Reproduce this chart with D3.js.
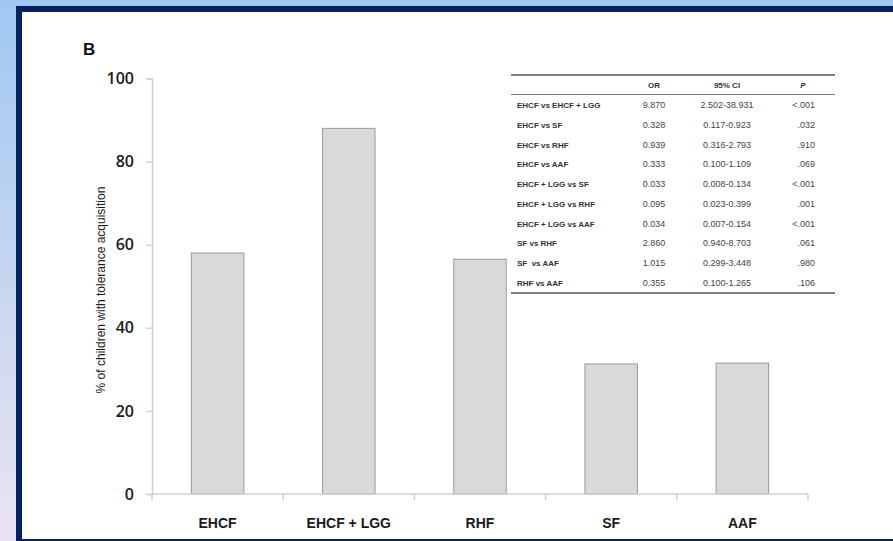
<!DOCTYPE html>
<html>
<head>
<meta charset="utf-8">
<script src="https://cdn.jsdelivr.net/npm/d3@7"></script>
<style>
  html, body { margin: 0; padding: 0; background: #fff; }
  svg { display: block; }
</style>
</head>
<body>
<svg id="chart" width="893" height="541"></svg>
<script>
// Tolerance acquisition by formula group
const categories = ["EHCF", "EHCF + LGG", "RHF", "SF", "AAF"];
const tolerancePct = [58, 88, 56.5, 31.3, 31.5];
const yTicks = [0, 20, 40, 60, 80, 100];

// Pairwise comparison table
const comparisons = [
  "EHCF vs EHCF + LGG", "EHCF vs SF", "EHCF vs RHF", "EHCF vs AAF",
  "EHCF + LGG vs SF", "EHCF + LGG vs RHF", "EHCF + LGG vs AAF",
  "SF vs RHF", "SF  vs AAF", "RHF vs AAF"
];
const oddsRatios = ["9.870", "0.328", "0.939", "0.333", "0.033", "0.095", "0.034", "2.860", "1.015", "0.355"];
const confIntervals = ["2.502-38.931", "0.117-0.923", "0.316-2.793", "0.100-1.109", "0.008-0.134",
  "0.023-0.399", "0.007-0.154", "0.940-8.703", "0.299-3.448", "0.100-1.265"];
const pValues = ["<.001", ".032", ".910", ".069", "<.001", ".001", "<.001", ".061", ".980", ".106"];
const tableHeaders = ["OR", "95% CI", "P"];

const svg = d3.select("#chart");
const W = 893, H = 541;

// Slide backdrop: soft gradient strip, navy frame, white panel
const defs = svg.append("defs");
const grad = defs.append("linearGradient").attr("id", "bg").attr("x1", 0).attr("y1", 0).attr("x2", 0).attr("y2", 1);
grad.append("stop").attr("offset", 0).attr("stop-color", "#9fc8f2");
grad.append("stop").attr("offset", 0.55).attr("stop-color", "#c9d7f0");
grad.append("stop").attr("offset", 1).attr("stop-color", "#ebe3f3");
svg.append("rect").attr("width", W).attr("height", H).attr("fill", "url(#bg)");
svg.append("rect").attr("x", 16).attr("y", 6).attr("width", W - 16).attr("height", H - 6).attr("fill", "#06215e");
svg.append("rect").attr("x", 22).attr("y", 12).attr("width", W - 22).attr("height", H - 14).attr("fill", "#ffffff");

// Scales
const x = d3.scaleBand().domain(categories).range([152, 808]).padding(0);
const y = d3.scaleLinear().domain([0, 100]).range([494, 78.5]);
const barW = x.bandwidth() * 0.4;

// Panel letter
svg.append("text").attr("x", 83).attr("y", 55)
  .attr("font-family", "Liberation Sans, Arial, sans-serif").attr("font-weight", "bold")
  .attr("font-size", 17).attr("fill", "#111").text("B");

// Bars
svg.append("g").selectAll("rect").data(categories).join("rect")
  .attr("x", d => x(d) + (x.bandwidth() - barW) / 2)
  .attr("y", (d, i) => y(tolerancePct[i]))
  .attr("width", barW)
  .attr("height", (d, i) => y(0) - y(tolerancePct[i]))
  .attr("fill", "#d9d9d9").attr("stroke", "#9a9a9a").attr("stroke-width", 1);

// Y axis
const yAxis = svg.append("g").attr("transform", "translate(152,0)")
  .call(d3.axisLeft(y).tickValues(yTicks).tickSize(6).tickPadding(12));
yAxis.select(".domain").attr("stroke", "#d0d0d0").attr("stroke-width", 1.5);
yAxis.selectAll(".tick line").attr("stroke", "#d0d0d0").attr("stroke-width", 1.5);
yAxis.selectAll(".tick text")
  .attr("font-family", "Open Sans, Liberation Sans, sans-serif").attr("font-weight", 600)
  .attr("font-size", 16).attr("fill", "#1a1a1a");

// X axis with ticks between categories
const xAxisG = svg.append("g").attr("transform", "translate(0,494)");
xAxisG.append("line").attr("x1", 152).attr("x2", 808).attr("y1", 0).attr("y2", 0)
  .attr("stroke", "#d0d0d0").attr("stroke-width", 1.5);
const boundaries = categories.map(c => x(c)).concat([x.range()[1]]);
xAxisG.selectAll("line.tk").data(boundaries).join("line").attr("class", "tk")
  .attr("x1", d => d).attr("x2", d => d).attr("y1", 0).attr("y2", 6)
  .attr("stroke", "#d0d0d0").attr("stroke-width", 1.5);
xAxisG.selectAll("text").data(categories).join("text")
  .attr("x", d => x(d) + x.bandwidth() / 2).attr("y", 34)
  .attr("text-anchor", "middle")
  .attr("font-family", "Liberation Sans, Arial, sans-serif").attr("font-weight", "bold")
  .attr("font-size", 14).attr("fill", "#1a1a1a").text(d => d);

// Y axis title
svg.append("text")
  .attr("transform", "translate(105,290) rotate(-90)")
  .attr("text-anchor", "middle")
  .attr("font-family", "Liberation Sans, Arial, sans-serif")
  .attr("font-size", 12).attr("fill", "#1a1a1a")
  .text("% of children with tolerance acquisition");

// Comparison table
const tbl = svg.append("g");
const tX0 = 511, tX1 = 835;
const rowY = d3.scaleLinear().domain([0, comparisons.length - 1]).range([105, 283]);
const tf = "Liberation Sans, Arial, sans-serif";
tbl.append("line").attr("x1", tX0).attr("x2", tX1).attr("y1", 75).attr("y2", 75).attr("stroke", "#555").attr("stroke-width", 1.5);
tbl.append("line").attr("x1", tX0).attr("x2", tX1).attr("y1", 94.5).attr("y2", 94.5).attr("stroke", "#777").attr("stroke-width", 1);
tbl.append("line").attr("x1", tX0).attr("x2", tX1).attr("y1", 293).attr("y2", 293).attr("stroke", "#555").attr("stroke-width", 1.5);

const colX = [654, 727, 803];
tbl.selectAll("text.hd").data(tableHeaders).join("text").attr("class", "hd")
  .attr("x", (d, i) => colX[i]).attr("y", 87.5).attr("text-anchor", "middle")
  .attr("font-family", tf).attr("font-weight", "bold").attr("font-size", 8)
  .attr("font-style", (d, i) => i === 2 ? "italic" : "normal")
  .attr("fill", "#333").text(d => d);

const rows = tbl.selectAll("g.row").data(comparisons).join("g").attr("class", "row")
  .attr("transform", (d, i) => `translate(0,${rowY(i) + 3})`);
rows.append("text").attr("x", 517).attr("font-family", tf).attr("font-weight", "bold")
  .attr("font-size", 8).attr("fill", "#333").attr("xml:space", "preserve").text(d => d);
rows.append("text").attr("x", colX[0]).attr("text-anchor", "middle").attr("font-family", tf)
  .attr("font-size", 9).attr("fill", "#444").text((d, i) => oddsRatios[i]);
rows.append("text").attr("x", colX[1]).attr("text-anchor", "middle").attr("font-family", tf)
  .attr("font-size", 9).attr("fill", "#444").text((d, i) => confIntervals[i]);
rows.append("text").attr("x", 815).attr("text-anchor", "end").attr("font-family", tf)
  .attr("font-size", 9).attr("fill", "#444").text((d, i) => pValues[i]);
</script>
</body>
</html>
